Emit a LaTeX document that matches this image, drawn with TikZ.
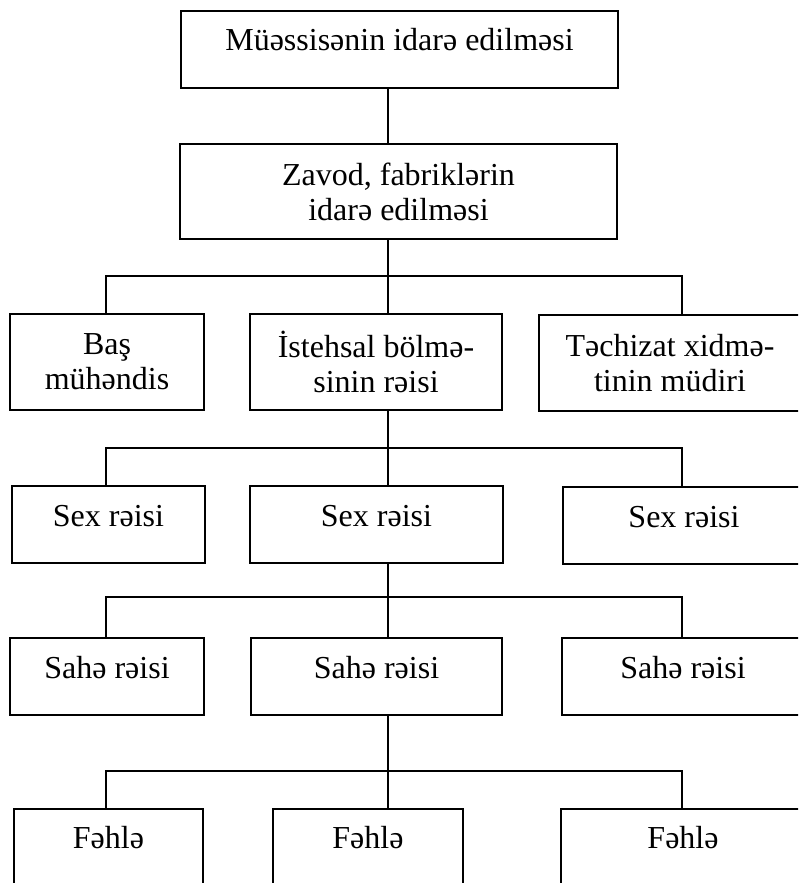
\documentclass[tikz,border=0pt]{standalone}
\usepackage{fontspec}
\setmainfont{Liberation Serif}

\begin{document}
\begin{tikzpicture}[x=1pt,y=-1pt,line width=2pt,line cap=rect,
  box/.style={draw,anchor=north west,inner sep=0pt,align=center,
              font=\fontsize{32}{35}\selectfont},
  onerow/.style={box,text height=40pt,text depth=37pt},
  tworow/.style={box,minimum height=96pt},
  lastrow/.style={box,text height=39pt,text depth=60pt}]
  \useasboundingbox (0,0) rectangle (798,883);
  \clip (0,0) rectangle (798,883);
  \coordinate (lcol) at (106,0);
  \coordinate (spine) at (388,0);
  \coordinate (rcol) at (682,0);

  \node[onerow,minimum width=437pt] (top) at (180,10) {Müəssisənin idarə edilməsi};
  \node[tworow,minimum width=437pt,minimum height=95pt] (zavod) at (179,143)
    {Zavod, fabriklərin\\idarə edilməsi};

  \node[tworow,minimum width=194pt] (bas) at (9,313) {Baş\\mühəndis};
  \node[tworow,minimum width=252pt] (istehsal) at (249,313) {İstehsal bölmə-\\sinin rəisi};
  \node[tworow,minimum width=262pt] (techizat) at (538,314) {Təchizat xidmə-\\tinin müdiri};

  \node[onerow,minimum width=193pt] (sex1) at (11,485) {Sex rəisi};
  \node[onerow,minimum width=253pt] (sex2) at (249,485) {Sex rəisi};
  \node[onerow,minimum width=242pt] (sex3) at (562,486) {Sex rəisi};

  \node[onerow,minimum width=194pt] (sahe1) at (9,637) {Sahə rəisi};
  \node[onerow,minimum width=251pt] (sahe2) at (250,637) {Sahə rəisi};
  \node[onerow,minimum width=242pt] (sahe3) at (561,637) {Sahə rəisi};

  \node[lastrow,minimum width=189pt] (fehle1) at (13,808) {Fəhlə};
  \node[lastrow,minimum width=190pt] (fehle2) at (272,808) {Fəhlə};
  \node[lastrow,minimum width=244pt] (fehle3) at (560,808) {Fəhlə};

  \draw (top.south -| spine) -- (zavod.north -| spine);
  \draw (zavod.south -| spine) -- (istehsal.north -| spine);
  \draw (bas.north -| lcol) -- ++(0,-37) -| (techizat.north -| rcol);

  \draw (istehsal.south -| spine) -- (sex2.north -| spine);
  \draw (sex1.north -| lcol) -- ++(0,-37) -| (sex3.north -| rcol);

  \draw (sex2.south -| spine) -- (sahe2.north -| spine);
  \draw (sahe1.north -| lcol) -- ++(0,-40) -| (sahe3.north -| rcol);

  \draw (sahe2.south -| spine) -- (fehle2.north -| spine);
  \draw (fehle1.north -| lcol) -- ++(0,-37) -| (fehle3.north -| rcol);
\end{tikzpicture}
\end{document}
